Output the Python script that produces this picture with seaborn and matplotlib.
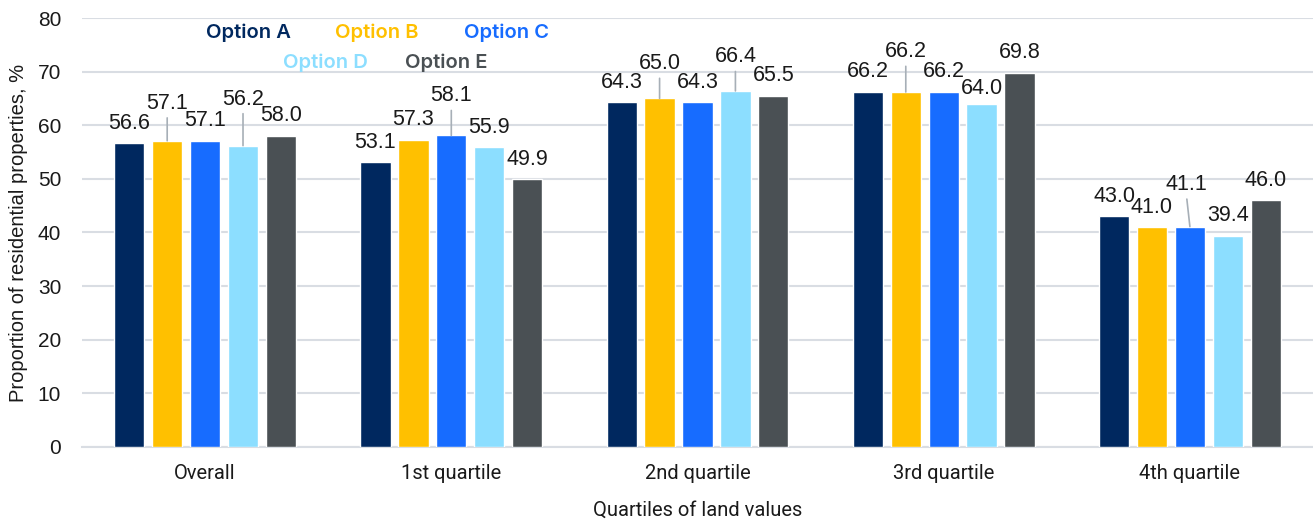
import matplotlib
matplotlib.use("Agg")
import matplotlib.pyplot as plt
import seaborn as sns
import pandas as pd

# Data
categories = ["Overall", "1st quartile", "2nd quartile", "3rd quartile", "4th quartile"]
options = ["Option A", "Option B", "Option C", "Option D", "Option E"]
option_a = [56.6, 53.1, 64.3, 66.2, 43.0]
option_b = [57.1, 57.3, 65.0, 66.2, 41.0]
option_c = [57.1, 58.1, 64.3, 66.2, 41.1]
option_d = [56.2, 55.9, 66.4, 64.0, 39.4]
option_e = [58.0, 49.9, 65.5, 69.8, 46.0]
colors = ["#00285F", "#FFC000", "#176CFF", "#8CDEFF", "#4A5054"]

series = [option_a, option_b, option_c, option_d, option_e]
df = pd.DataFrame(
    [(cat, opt, vals[i]) for opt, vals in zip(options, series) for i, cat in enumerate(categories)],
    columns=["category", "option", "value"],
)

sns.set_theme(style="white")
plt.rcParams["font.family"] = ["Liberation Sans", "DejaVu Sans"]

fig = plt.figure(figsize=(13.13, 5.21), dpi=100)
ax = fig.add_axes([82 / 1313, 1 - 447 / 521, 1 - 82 / 1313, (447 - 18) / 521])

sns.barplot(
    data=df, x="category", y="value", hue="option", order=categories,
    hue_order=options, palette=colors, width=0.77, gap=0.2,
    saturation=1, legend=False, ax=ax, zorder=3,
)

ax.set_ylim(0, 80)
ax.set_xlim(-0.5, len(categories) - 0.5)
ax.set_yticks(range(0, 81, 10))
ax.yaxis.grid(True, color="#D9DDE3", linewidth=1.5, zorder=0)
ax.set_axisbelow(True)
for side in ["top", "right", "left"]:
    ax.spines[side].set_visible(False)
ax.spines["bottom"].set_color("#D9DDE3")
ax.spines["bottom"].set_linewidth(1.5)
ax.tick_params(axis="both", length=0)
ax.tick_params(axis="y", labelsize=15, pad=15, labelcolor="#1a1a1a")
ax.tick_params(axis="x", pad=12, labelcolor="#1a1a1a")
for lbl in ax.get_xticklabels():
    lbl.set_fontfamily(["Roboto", "DejaVu Sans"])
    lbl.set_fontsize(14.5)

ax.set_xlabel("Quartiles of land values", fontsize=14.5, family=["Roboto", "DejaVu Sans"],
              color="#1a1a1a", labelpad=13)
ax.set_ylabel("Proportion of residential properties, %", fontsize=14.5, color="#1a1a1a")
ax.yaxis.set_label_coords(-54 / 1231, (447 - 233) / 429)

# Value labels; a few are lifted above their neighbours with a leader line
normal_off = 10.5
lifted = {
    (1, 0): (0, 23.0),
    (3, 0): (0, 29.5),
    (2, 1): (0, 24.5),
    (1, 2): (0, 21.0),
    (3, 2): (0, 20.5),
    (1, 3): (0, 25.0),
    (3, 3): (0, 7.4),
    (2, 4): (-2.2, 26.3),
}
for s_idx, container in enumerate(ax.containers):
    for c_idx, bar in enumerate(container):
        val = series[s_idx][c_idx]
        x = bar.get_x() + bar.get_width() / 2
        dx, dy = lifted.get((s_idx, c_idx), (0, normal_off))
        ax.annotate(f"{val:.1f}", xy=(x, val), xytext=(dx, dy), textcoords="offset points",
                    ha="center", va="baseline", fontsize=15.5, color="#1a1a1a", zorder=5)
        if dy > 18:
            ax.annotate("", xy=(x, val), xytext=(dx, dy - 6.5), textcoords="offset points",
                        arrowprops=dict(arrowstyle="-", color="#A7AFB7", lw=1.2,
                                        shrinkA=0, shrinkB=0), zorder=4)

# Coloured text legend
legend_pos = [(248, 32.5), (377, 32.5), (506, 32.5), (325, 62.5), (446, 62.5)]
for name, col, (px, py) in zip(options, colors, legend_pos):
    fig.text(px / 1313, 1 - py / 521, name, color=col, fontsize=14.5, fontweight="semibold",
             family=["Inter", "DejaVu Sans"], ha="center", va="center")

fig.savefig("out.png", dpi=100)
